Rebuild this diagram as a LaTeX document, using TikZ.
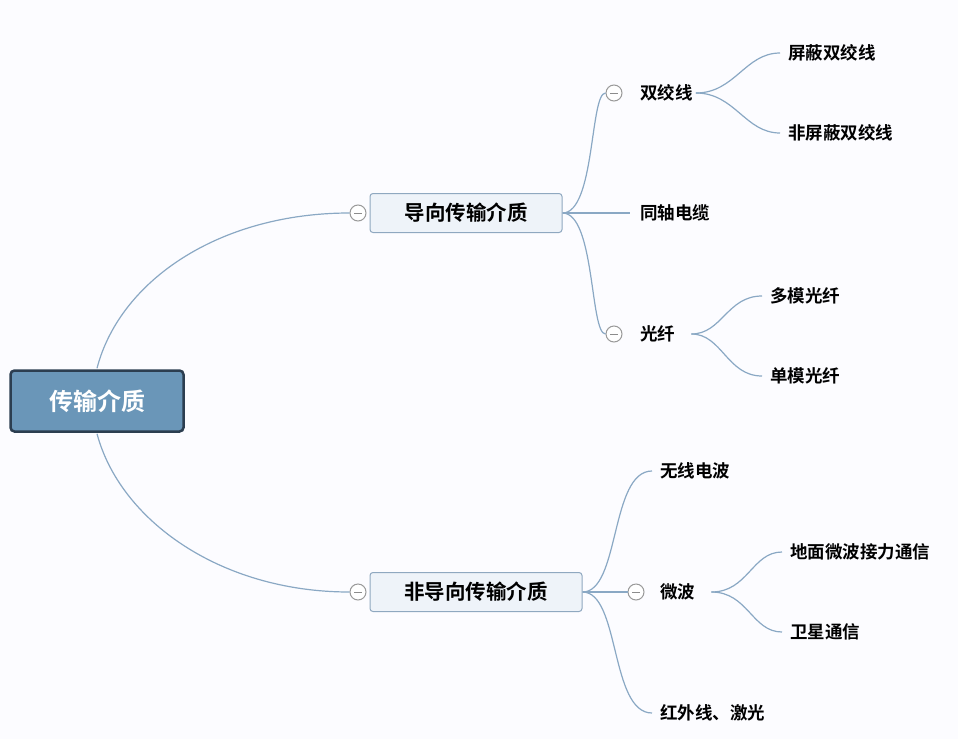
\documentclass[tikz,border=0pt]{standalone}
\usepackage{fontspec}
\setmainfont{Noto Sans CJK SC}[BoldFont={* Bold}]
\begin{document}
\begin{tikzpicture}[x=1pt,y=-1pt,
  lk/.style={draw=lineC,line width=1.2pt},
  root/.style={draw=rootB,fill=rootF,line width=2.5pt,rounded corners=4pt,minimum width=173pt,minimum height=61pt,text=white,font=\bfseries\fontsize{24}{26}\selectfont},
  br/.style={draw=brB,fill=brF,line width=1pt,rounded corners=3pt,minimum height=39pt,font=\bfseries\fontsize{20.5}{22}\selectfont},
  lf/.style={anchor=west,inner sep=0pt,font=\bfseries\fontsize{17.5}{19}\selectfont},
  tg/.style={circle,draw=gray!80,fill=white,line width=1pt,minimum size=16pt,inner sep=0pt,path picture={\draw[gray!90,line width=1pt] ([xshift=-4pt]path picture bounding box.center)--([xshift=4pt]path picture bounding box.center);}}]
\definecolor{lineC}{HTML}{8AA8C4}
\definecolor{rootB}{HTML}{2C3E50}
\definecolor{rootF}{HTML}{6A96B8}
\definecolor{brB}{HTML}{8FA8C0}
\definecolor{brF}{HTML}{EEF3F9}
\fill[white!97!blue!40!white] (0,0) rectangle (958,739);
\useasboundingbox (0,0) rectangle (958,739);
\node[root] (r) at (97,401) {传输介质};
\node[br,minimum width=192pt] (a) at (466,213) {导向传输介质};
\node[br,minimum width=212pt] (b) at (476,592) {非导向传输介质};
\node[tg] (ta) at (358,213) {};
\node[tg] (tb) at (358,592) {};
% level 2 under a
\node[lf] (sj) at (640,93) {双绞线};
\node[tg] (tsj) at (614,93) {};
\node[lf] (tz) at (640,213) {同轴电缆};
\node[lf] (gx) at (640,334) {光纤};
\node[tg] (tgx) at (614,334) {};
\node[lf] (p1) at (788,53) {屏蔽双绞线};
\node[lf] (p2) at (788,133) {非屏蔽双绞线};
\node[lf] (g1) at (770,296) {多模光纤};
\node[lf] (g2) at (770,376) {单模光纤};
% under b
\node[lf] (wx) at (660,471) {无线电波};
\node[lf] (wb) at (660,592) {微波};
\node[tg] (twb) at (636,592) {};
\node[lf] (hw) at (660,713) {红外线、激光};
\node[lf] (w1) at (790,552) {地面微波接力通信};
\node[lf] (w2) at (790,632) {卫星通信};
% links
\draw[lk] (r.north) ++(0,-1) .. controls (120,280) and (220,213) .. (ta.west);
\draw[lk] (r.south) ++(0,1) .. controls (120,520) and (220,592) .. (tb.west);
\draw[lk] (a.east) .. controls (595,213) and (590,93) .. (tsj.west);
\draw[lk] (a.east) -- ([xshift=-10pt]tz.west);
\draw[lk] (a.east) .. controls (595,213) and (590,334) .. (tgx.west);
\draw[lk] (sj.east) ++(3,0) coordinate (sje) .. controls (735,93) and (745,53) .. ([xshift=-8pt]p1.west);
\draw[lk] (sje) .. controls (735,93) and (745,133) .. ([xshift=-8pt]p2.west);
\draw[lk] (gx.east) ++(16,0) coordinate (gxe) .. controls (722,334) and (727,296) .. ([xshift=-8pt]g1.west);
\draw[lk] (gxe) .. controls (722,334) and (727,376) .. ([xshift=-8pt]g2.west);
\draw[lk] (b.east) .. controls (620,592) and (610,471) .. ([xshift=-8pt]wx.west);
\draw[lk] (b.east) -- (twb.west);
\draw[lk] (b.east) .. controls (620,592) and (610,713) .. ([xshift=-8pt]hw.west);
\draw[lk] (wb.east) ++(16,0) coordinate (wbe) .. controls (748,592) and (752,552) .. ([xshift=-8pt]w1.west);
\draw[lk] (wbe) .. controls (748,592) and (752,632) .. ([xshift=-8pt]w2.west);
\end{tikzpicture}
\end{document}
